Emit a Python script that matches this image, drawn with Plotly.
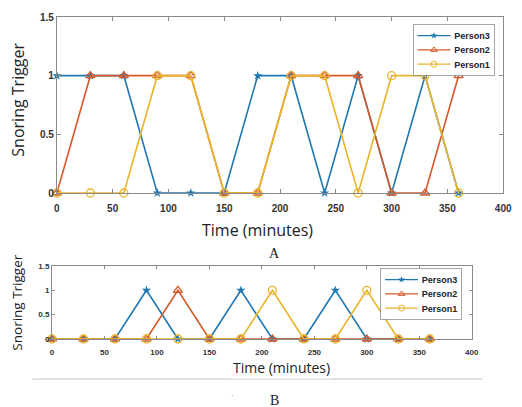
import plotly.graph_objects as go

W, H = 522, 407

# ---- data ----
time_min = [0, 30, 60, 90, 120, 150, 180, 210, 240, 270, 300, 330, 360]

a_person3 = [1, 1, 1, 0, 0, 0, 1, 1, 0, 1, 0, 1, 0]
a_person2 = [0, 1, 1, 1, 1, 0, 0, 1, 1, 1, 0, 0, 1]
a_person1 = [0, 0, 0, 1, 1, 0, 0, 1, 1, 0, 1, 1, 0]

b_person3 = [0, 0, 0, 1, 0, 0, 1, 0, 0, 1, 0, 0, 0]
b_person2 = [0, 0, 0, 0, 1, 0, 0, 0, 0, 0, 0, 0, 0]
b_person1 = [0, 0, 0, 0, 0, 0, 0, 1, 0, 0, 1, 0, 0]

x_ticks = [0, 50, 100, 150, 200, 250, 300, 350, 400]
y_ticks = [0, 0.5, 1, 1.5]
y_tick_labels = ["0", "0.5", "1", "1.5"]

BLUE = "#2078b0"
ORANGE = "#d5592a"
YELLOW = "#e9b52c"

def px_x(p):
    return p / W

def px_y(p):
    return 1 - p / H

fig = go.Figure()

series = [
    ("Person3", BLUE, "star", a_person3, b_person3),
    ("Person2", ORANGE, "triangle-up-open", a_person2, b_person2),
    ("Person1", YELLOW, "circle-open", a_person1, b_person1),
]

def marker(sym, col):
    filled = not sym.endswith("open")
    return dict(symbol=sym, size=7 if filled else 8, color=col,
                line=dict(color=col, width=0 if filled else 1.3))

for name, col, sym, ya, yb in series:
    fig.add_trace(go.Scatter(x=time_min, y=ya, name=name, mode="lines+markers",
                             line=dict(color=col, width=1.6), marker=marker(sym, col),
                             xaxis="x", yaxis="y", legend="legend",
                             cliponaxis=False))
for name, col, sym, ya, yb in series:
    fig.add_trace(go.Scatter(x=time_min, y=yb, name=name, mode="lines+markers",
                             line=dict(color=col, width=1.6), marker=marker(sym, col),
                             xaxis="x2", yaxis="y2", legend="legend2",
                             cliponaxis=False))

axis_common = dict(showline=True, linecolor="#8a8a8a", linewidth=1, mirror="ticks",
                   ticks="inside", tickcolor="#8a8a8a", showgrid=False, zeroline=False,
                   automargin=False)

tickfont_top = dict(family="Arial", size=10, color="#333333", weight="bold")
tickfont_bot = dict(family="Arial", size=8, color="#333333", weight="bold")

legend_font = dict(family="Arial", size=12, color="#222", weight="bold")

fig.update_layout(
    width=W, height=H,
    margin=dict(l=0, r=0, t=0, b=0),
    paper_bgcolor="white", plot_bgcolor="white",
    xaxis=dict(domain=[px_x(58), px_x(513)], range=[0, 400], tickvals=x_ticks,
               ticklen=4, tickfont=tickfont_top, ticklabelstandoff=6,
               anchor="y", **axis_common),
    yaxis=dict(domain=[px_y(193), px_y(17)], range=[0, 1.5], tickvals=y_ticks,
               ticktext=y_tick_labels, ticklen=4, tickfont=tickfont_top,
               anchor="x", **axis_common),
    xaxis2=dict(domain=[px_x(53), px_x(481)], range=[0, 400], tickvals=x_ticks,
                ticklen=3, tickfont=tickfont_bot, ticklabelstandoff=5,
                anchor="y2", **axis_common),
    yaxis2=dict(domain=[px_y(339), px_y(266)], range=[0, 1.5], tickvals=y_ticks,
                ticktext=y_tick_labels, ticklen=3, tickfont=tickfont_bot,
                anchor="x2", **axis_common),
    legend=dict(x=px_x(421), y=px_y(24), xanchor="left", yanchor="top",
                bgcolor="white", bordercolor="#8a8a8a", borderwidth=1,
                font=legend_font, tracegroupgap=0, itemwidth=44),
    legend2=dict(x=px_x(388), y=px_y(268), xanchor="left", yanchor="top",
                 bgcolor="white", bordercolor="#8a8a8a", borderwidth=1,
                 font=legend_font, tracegroupgap=0, itemwidth=44),
    showlegend=True,
)

# separator line under bottom chart
fig.add_shape(type="line", xref="paper", yref="paper",
              x0=px_x(33), x1=px_x(492), y0=px_y(379), y1=px_y(379),
              line=dict(color="#e2e2e2", width=2))

ann = [
    dict(text="Snoring Trigger", x=px_x(18), y=px_y(100), textangle=-90,
         font=dict(family="Open Sans", size=16, color="#222")),
    dict(text="Time (minutes)", x=px_x(263), y=px_y(230),
         font=dict(family="Open Sans", size=16, color="#222")),
    dict(text="A", x=px_x(280), y=px_y(253),
         font=dict(family="Liberation Serif", size=14, color="#222")),
    dict(text="Snoring Trigger", x=px_x(17), y=px_y(303), textangle=-90,
         font=dict(family="Open Sans", size=13.5, color="#222")),
    dict(text="Time (minutes)", x=px_x(287), y=px_y(367), bgcolor="white",
         font=dict(family="Open Sans", size=14, color="#222")),
    dict(text=".", x=px_x(237), y=px_y(393),
         font=dict(family="Arial", size=9, color="#999")),
    dict(text="B", x=px_x(280), y=px_y(400),
         font=dict(family="Liberation Serif", size=14, color="#222")),
]
for a in ann:
    fig.add_annotation(xref="paper", yref="paper", showarrow=False,
                       xanchor="center", yanchor="middle", **a)

post = """
document.body.style.margin='0';
document.body.style.overflow='hidden';
var gd = document.getElementById('{plot_id}');
gd.querySelectorAll('.infolayer > g').forEach(function(g){
  var c = g.getAttribute('class') || '';
  if (c === 'legend' || c === 'legend2') {
    var t = g.getAttribute('transform') || '';
    g.setAttribute('transform', t + ' scale(0.75)');
  }
});
"""

fig.write_html("out.html", config={"displayModeBar": False}, post_script=post)
